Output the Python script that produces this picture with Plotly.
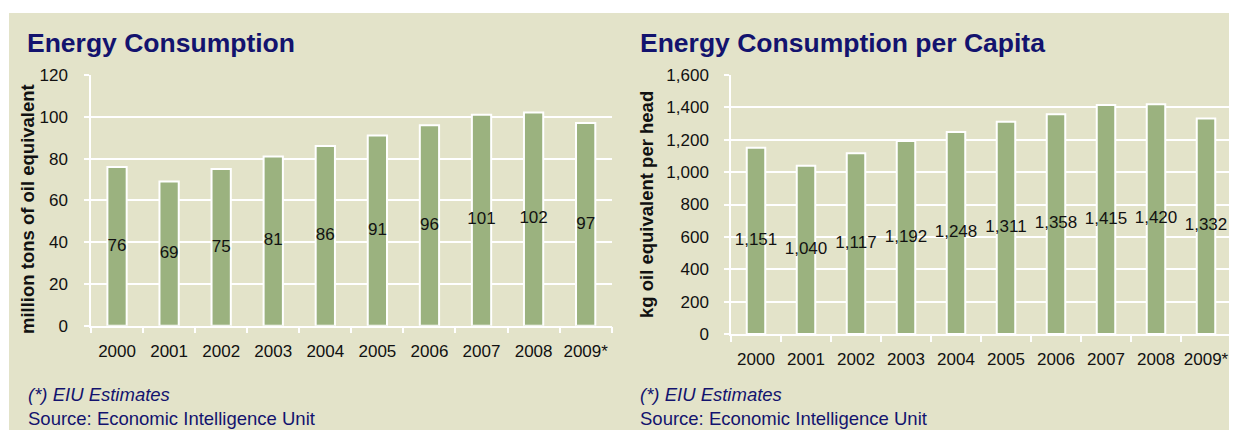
import plotly.graph_objects as go

years = ["2000", "2001", "2002", "2003", "2004", "2005", "2006", "2007", "2008", "2009*"]
consumption = [76, 69, 75, 81, 86, 91, 96, 101, 102, 97]
per_capita = [1151, 1040, 1117, 1192, 1248, 1311, 1358, 1415, 1420, 1332]

left_title = "Energy Consumption"
right_title = "Energy Consumption per Capita"
left_ytitle = "million tons of oil equivalent"
right_ytitle = "kg oil equivalent per head"
note = "(*) EIU Estimates"
source = "Source: Economic Intelligence Unit"

OFF = 8  # page body margin
W, H = 1237 - OFF, 430 - OFF
BG = "#E3E3C9"
BAR = "#9BB27F"
NAVY = "#13136E"
FONT = "Liberation Sans, Arial, sans-serif"


def px(x):
    return (x - OFF) / W


def py(y):
    return 1 - (y - OFF) / H


fig = go.Figure()

fig.add_trace(go.Bar(x=years, y=consumption, xaxis="x", yaxis="y", width=0.37,
                     marker=dict(color=BAR, line=dict(color="white", width=2)),
                     hoverinfo="skip"))
fig.add_trace(go.Scatter(x=years, y=[v / 2 for v in consumption], xaxis="x", yaxis="y",
                         mode="text", text=[f"{v:,}" for v in consumption],
                         textfont=dict(size=17, color="#111111", family=FONT),
                         cliponaxis=False, hoverinfo="skip"))
fig.add_trace(go.Bar(x=years, y=per_capita, xaxis="x2", yaxis="y2", width=0.37,
                     marker=dict(color=BAR, line=dict(color="white", width=2)),
                     hoverinfo="skip"))
fig.add_trace(go.Scatter(x=years, y=[v / 2 for v in per_capita], xaxis="x2", yaxis="y2",
                         mode="text", text=[f"{v:,}" for v in per_capita],
                         textfont=dict(size=17, color="#111111", family=FONT),
                         cliponaxis=False, hoverinfo="skip"))

xcommon = dict(type="category", showgrid=False, showline=True, linecolor="white", linewidth=1.5,
               ticks="outside", tickson="boundaries", ticklen=6, tickcolor="white", tickwidth=1.5,
               tickangle=0,
               tickfont=dict(size=17, color="#111111", family=FONT), ticklabelstandoff=9,
               automargin=False, fixedrange=True)
ycommon = dict(showgrid=True, gridcolor="white", gridwidth=1.5, showline=True, linecolor="white",
               linewidth=1.5, ticks="outside", ticklen=5, tickcolor="white", tickwidth=1.5,
               tickfont=dict(size=17, color="#111111", family=FONT), zeroline=False,
               automargin=False, fixedrange=True)

fig.update_layout(
    width=W, height=H,
    margin=dict(l=0, r=0, t=0, b=0),
    paper_bgcolor="white", plot_bgcolor="rgba(0,0,0,0)",
    showlegend=False, bargap=0.6,
    font=dict(family=FONT),
    xaxis=dict(domain=[px(91), px(611.7)], anchor="y", **xcommon),
    yaxis=dict(domain=[py(325.7), py(75)], anchor="x", range=[0, 120], dtick=20,
               ticklabelstandoff=13, **ycommon),
    xaxis2=dict(domain=[px(731), px(1231)], anchor="y2", **xcommon),
    yaxis2=dict(domain=[py(334), py(75)], anchor="x2", range=[0, 1600], dtick=200,
                tickformat=",", ticklabelstandoff=12, **ycommon),
    shapes=[dict(type="rect", xref="paper", yref="paper", x0=px(9), x1=1, y0=0, y1=py(13),
                 fillcolor=BG, line=dict(width=0), layer="below")],
)

ann = []
for x0, t in [(25, left_title), (638, right_title)]:
    ann.append(dict(text=f"<b>{t}</b>", x=px(x0), y=py(43), xref="paper", yref="paper",
                    xanchor="left", yanchor="middle", showarrow=False,
                    font=dict(size=26.5, color=NAVY, family=FONT)))
for x0, t in [(26, note), (638, note)]:
    ann.append(dict(text=f"<i>{t}</i>", x=px(x0), y=py(394), xref="paper", yref="paper",
                    xanchor="left", yanchor="middle", showarrow=False,
                    font=dict(size=18.5, color=NAVY, family=FONT)))
for x0, t in [(26, source), (638, source)]:
    ann.append(dict(text=t, x=px(x0), y=py(418), xref="paper", yref="paper",
                    xanchor="left", yanchor="middle", showarrow=False,
                    font=dict(size=18.5, color=NAVY, family=FONT)))
for x0, yc, t in [(27, 209, left_ytitle), (646, 205, right_ytitle)]:
    ann.append(dict(text=f"<b>{t}</b>", x=px(x0), y=py(yc), xref="paper", yref="paper",
                    xanchor="center", yanchor="middle", showarrow=False, textangle=-90,
                    font=dict(size=18.5, color="#111111", family=FONT)))
fig.update_layout(annotations=ann)

fig.write_html("out.html")
